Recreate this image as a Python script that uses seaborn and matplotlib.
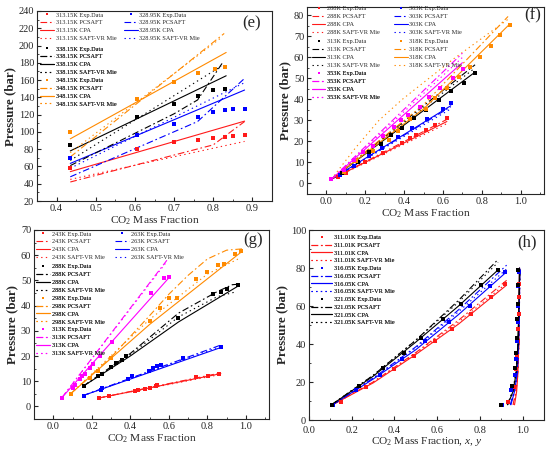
import matplotlib
matplotlib.use('Agg')
import matplotlib.pyplot as plt
import seaborn as sns
from matplotlib.lines import Line2D
from matplotlib.ticker import MultipleLocator

# ---------------- data ----------------
# panel (e)
e_temps = ['313.15K', '328.95K', '338.15K', '348.15K']
e_x_313 = [0.435, 0.605, 0.70, 0.76, 0.80, 0.83, 0.85, 0.88]
e_p_313 = [58.5, 80.5, 88, 90.5, 92.5, 94.5, 95, 96]
e_x_329 = [0.435, 0.605, 0.70, 0.76, 0.80, 0.83, 0.85, 0.88]
e_p_329 = [70, 96, 109, 117.5, 123, 125, 126, 126.5]
e_x_338 = [0.435, 0.605, 0.70, 0.76, 0.80, 0.83]
e_p_338 = [84.5, 117, 132, 142, 148.5, 150]
e_x_348 = [0.435, 0.605, 0.70, 0.76, 0.805, 0.83]
e_p_348 = [100, 138, 157.5, 168, 173, 175]

e_pc_x_313, e_pc_313 = [0.435, 0.80, 0.88], [42, 85, 112]
e_cpa_x_313, e_cpa_313 = [0.435, 0.88], [54, 112.5]
e_vr_x_313, e_vr_313 = [0.435, 0.88], [45, 89]
e_pc_x_329, e_pc_329 = [0.435, 0.76, 0.88], [48, 112, 162]
e_cpa_x_329, e_cpa_329 = [0.435, 0.88], [63.5, 148.5]
e_vr_x_329, e_vr_329 = [0.435, 0.88], [58, 157]
e_pc_x_338, e_pc_338 = [0.435, 0.70, 0.76, 0.825], [61, 121, 137, 181]
e_cpa_x_338, e_cpa_338 = [0.435, 0.833], [78, 165]
e_vr_x_338, e_vr_338 = [0.435, 0.82], [67, 176]
e_pc_x_348, e_pc_348 = [0.435, 0.828], [71, 214]
e_cpa_x_348, e_cpa_348 = [0.435, 0.833], [92, 192]
e_vr_x_348, e_vr_348 = [0.435, 0.82], [76, 209]

# panel (f)
f_temps = ['288K', '303K', '313K', '318K', '353K']
f_x_288 = [0.025, 0.06, 0.10, 0.20, 0.29, 0.39, 0.43, 0.46, 0.51, 0.56, 0.62]
f_p_288 = [2, 3, 5, 10, 14.5, 19.5, 21.5, 23, 25.5, 28, 31]
f_x_303 = [0.025, 0.07, 0.14, 0.22, 0.285, 0.37, 0.44, 0.52, 0.60, 0.64]
f_p_303 = [2, 4, 8.5, 13, 17, 22, 26.5, 30.5, 35.5, 38.5]
f_x_313 = [0.025, 0.08, 0.16, 0.22, 0.28, 0.33, 0.39, 0.45, 0.51, 0.58, 0.64, 0.71, 0.765]
f_p_313 = [2, 5, 10, 15, 19, 23, 26.5, 31, 35, 39.5, 44, 48, 52.5]
f_x_318 = [0.025, 0.09, 0.15, 0.24, 0.32, 0.37, 0.43, 0.51, 0.56, 0.62, 0.68, 0.74, 0.79, 0.845, 0.895, 0.945]
f_p_318 = [2, 5.5, 10.5, 15.5, 20.5, 25, 30.5, 35.5, 40.5, 45.5, 50.5, 55.5, 60, 65.5, 70.5, 75.5]
f_x_353 = [0.025, 0.09, 0.14, 0.19, 0.24, 0.29, 0.35, 0.385, 0.42, 0.48, 0.53, 0.585, 0.65, 0.705]
f_p_353 = [2, 6.5, 11, 15, 18, 22.5, 27, 30, 32.5, 36.5, 41, 45.5, 50, 54.5]

f_pc_x_288, f_pc_288 = [0.025, 0.62], [2, 30.5]
f_cpa_x_288, f_cpa_288 = [0.025, 0.62], [2, 29.5]
f_vr_x_288, f_vr_288 = [0.025, 0.62], [2, 28.5]
f_pc_x_303, f_pc_303 = [0.025, 0.64], [2, 36.5]
f_cpa_x_303, f_cpa_303 = [0.025, 0.64], [2, 37]
f_vr_x_303, f_vr_303 = [0.025, 0.64], [2, 35.5]
f_pc_x_313, f_pc_313 = [0.025, 0.765], [2, 56.5]
f_cpa_x_313, f_cpa_313 = [0.025, 0.765], [2, 53]
f_vr_x_313, f_vr_313 = [0.025, 0.765], [2, 55]
f_pc_x_318, f_pc_318 = [0.025, 0.5, 0.935], [2, 37.5, 79.5]
f_cpa_x_318, f_cpa_318 = [0.025, 0.5, 0.945], [2, 35.5, 76]
f_vr_x_318, f_vr_318 = [0.025, 0.15, 0.27, 0.39, 0.65, 0.94], [2, 17, 30, 40, 59, 78.5]
f_pc_x_353, f_pc_353 = [0.025, 0.70], [2, 62]
f_cpa_x_353, f_cpa_353 = [0.025, 0.70], [2, 57.5]
f_vr_x_353, f_vr_353 = [0.025, 0.70], [2, 60]

# panel (g)
g_temps = ['243K', '263K', '288K', '298K', '313K']
g_x_243 = [0.24, 0.29, 0.425, 0.44, 0.475, 0.50, 0.535, 0.54, 0.74, 0.805, 0.86]
g_p_243 = [3.3, 4.0, 6.2, 6.6, 7.1, 7.4, 8.2, 8.6, 11.5, 12.1, 12.8]
g_x_263 = [0.16, 0.25, 0.255, 0.39, 0.41, 0.495, 0.52, 0.54, 0.56, 0.675, 0.87]
g_p_263 = [4.2, 6.6, 7.3, 10.8, 11.9, 14.2, 15.4, 16.1, 16.6, 19.1, 23.7]
g_x_288 = [0.16, 0.23, 0.255, 0.30, 0.325, 0.355, 0.38, 0.65, 0.83, 0.87, 0.90, 0.96]
g_p_288 = [8.2, 11.9, 12.8, 15.6, 17.2, 18.5, 20.1, 35, 44.5, 45.5, 46.6, 48.2]
g_x_298 = [0.09, 0.19, 0.23, 0.30, 0.50, 0.555, 0.60, 0.64, 0.74, 0.80, 0.855, 0.885, 0.945, 0.975]
g_p_298 = [5, 11.2, 13.9, 19.4, 34, 38.9, 42.9, 42.9, 50.4, 53.4, 56.1, 56.7, 60.3, 61.5]
g_x_313 = [0.045, 0.10, 0.115, 0.14, 0.15, 0.165, 0.19, 0.205, 0.245, 0.305, 0.505, 0.575, 0.60]
g_p_313 = [3.3, 7.5, 8.6, 10.8, 12.1, 12.8, 15.2, 16.8, 20.1, 25.5, 44.9, 50.8, 51.2]

g_pc_x_243, g_pc_243 = [0.235, 0.87], [3.3, 13.3]
g_cpa_x_243, g_cpa_243 = [0.235, 0.87], [3.3, 13]
g_vr_x_243, g_vr_243 = [0.235, 0.87], [3.3, 12.7]
g_pc_x_263, g_pc_263 = [0.155, 0.875], [4.3, 24.5]
g_cpa_x_263, g_cpa_263 = [0.155, 0.875], [4.3, 23.5]
g_vr_x_263, g_vr_263 = [0.155, 0.875], [4.3, 24]
g_pc_x_288, g_pc_288 = [0.155, 0.40, 0.65, 0.85, 0.93, 0.965], [8, 21, 37, 45.5, 48.3, 48.5]
g_cpa_x_288, g_cpa_288 = [0.155, 0.40, 0.65, 0.965], [8, 20, 33.5, 48]
g_vr_x_288, g_vr_288 = [0.155, 0.40, 0.65, 0.85, 0.95], [8, 20.5, 35.5, 43.5, 45.5]
g_pc_x_298, g_pc_298 = [0.09, 0.30, 0.50, 0.60, 0.70, 0.80, 0.90, 0.98], [5, 19.5, 36, 44.5, 52, 58.5, 62, 62.5]
g_cpa_x_298, g_cpa_298 = [0.09, 0.50, 0.98], [5, 32.5, 61.5]
g_vr_x_298, g_vr_298 = [0.09, 0.50, 0.80, 0.96], [5, 34.5, 52.5, 58.5]
g_pc_x_313, g_pc_313 = [0.045, 0.59], [3.5, 58]
g_cpa_x_313, g_cpa_313 = [0.045, 0.60], [3.5, 51]
g_vr_x_313, g_vr_313 = [0.045, 0.59], [3.5, 57.5]

# panel (h): liquid (x) and vapour (y) compositions
h_temps = ['311.01K', '316.05K', '321.05K']
h_x_311 = [0.15, 0.267, 0.396, 0.492, 0.588, 0.668, 0.756, 0.854, 0.919]
h_y_311 = [0.93, 0.958, 0.968, 0.975, 0.978, 0.980, 0.981, 0.982, 0.982]
h_p_311 = [9.7, 17.3, 27, 33.7, 41.5, 47.8, 55.6, 64.6, 71.5]
h_x_316 = [0.112, 0.22, 0.334, 0.435, 0.543, 0.655, 0.753, 0.849, 0.918]
h_y_316 = [0.905, 0.946, 0.962, 0.970, 0.975, 0.978, 0.979, 0.980, 0.981]
h_p_316 = [8, 16, 23.8, 32, 41.5, 51.4, 60, 70.3, 77.8]
h_x_321 = [0.109, 0.233, 0.345, 0.446, 0.523, 0.628, 0.712, 0.807, 0.883]
h_y_321 = [0.897, 0.952, 0.962, 0.968, 0.972, 0.975, 0.977, 0.978, 0.979]
h_p_321 = [8, 17.8, 27.4, 35.3, 42.9, 53, 61.1, 71.1, 78.7]

h_liq_x_311 = [0.11, 0.30, 0.50, 0.70, 0.925]
h_pc_311, h_cpa_311, h_vr_311 = [8, 20, 35.5, 52.5, 73.5], [8, 19.5, 34.5, 50.5, 71], [8, 20, 35, 51.5, 72]
h_liq_x_316 = [0.11, 0.30, 0.50, 0.70, 0.925]
h_pc_316, h_cpa_316, h_vr_316 = [8, 22, 38.5, 58, 81.5], [8, 21.5, 37, 55.5, 78], [8, 22, 38, 57, 79.5]
h_liq_x_321 = [0.105, 0.30, 0.50, 0.70, 0.885]
h_pc_321, h_cpa_321, h_vr_321 = [8, 23.5, 42, 63, 84.5], [8, 23, 41, 60, 79], [8, 23.5, 42, 62, 83]

h_vap_p = [8, 15, 25, 40, 60, 80]
h_vpc_311 = [0.955, 0.968, 0.977, 0.982, 0.985, 0.986]
h_vcpa_311 = [0.962, 0.972, 0.978, 0.982, 0.984, 0.985]
h_vvr_311 = [0.958, 0.970, 0.978, 0.983, 0.985, 0.986]
h_vpc_316 = [0.942, 0.960, 0.974, 0.981, 0.985, 0.987]
h_vcpa_316 = [0.945, 0.962, 0.975, 0.981, 0.984, 0.986]
h_vvr_316 = [0.943, 0.961, 0.975, 0.982, 0.985, 0.987]
h_vpc_321 = [0.928, 0.953, 0.969, 0.978, 0.983, 0.987]
h_vcpa_321 = [0.930, 0.955, 0.970, 0.978, 0.982, 0.985]
h_vvr_321 = [0.929, 0.954, 0.970, 0.979, 0.984, 0.988]

# ---------------- style ----------------
RED, BLUE, BLACK, ORANGE, MAGENTA = '#ff1a1a', '#0000ff', '#000000', '#ff8a00', '#ff00ff'
DASHDOT = (0, (6, 2.5, 1.5, 2.5))
DOTTED = (0, (1.2, 3))
STYLES = [DASHDOT, '-', DOTTED]
LW = 0.8

sns.set_theme(style='ticks')
plt.rcParams['font.family'] = ['Liberation Serif', 'DejaVu Serif']
plt.rcParams['mathtext.fontset'] = 'custom'
plt.rcParams['mathtext.rm'] = 'Liberation Serif'
plt.rcParams['mathtext.it'] = 'Liberation Serif:italic'
plt.rcParams['xtick.direction'] = 'in'
plt.rcParams['ytick.direction'] = 'in'
plt.rcParams['xtick.major.size'] = 3
plt.rcParams['ytick.major.size'] = 3
plt.rcParams['xtick.minor.size'] = 1.6
plt.rcParams['ytick.minor.size'] = 1.6
plt.rcParams['axes.linewidth'] = 0.8
plt.rcParams['xtick.major.pad'] = 2.5
plt.rcParams['ytick.major.pad'] = 2


def draw_set(ax, color, ex, ep, models):
    for (mx, my), ls in zip(models, STYLES):
        sns.lineplot(x=mx, y=my, ax=ax, color=color, linestyle=ls, linewidth=LW,
                     sort=False, estimator=None, legend=False)
    sns.scatterplot(x=ex, y=ep, ax=ax, color=color, marker='s', s=9,
                    linewidth=0, zorder=4, legend=False)


def entries(temp, color):
    return [Line2D([], [], color=color, marker='s', ls='none', ms=2.1, mew=0, label=f'{temp} Exp.Data'),
            Line2D([], [], color=color, ls=DASHDOT, lw=LW, label=f'{temp} PCSAFT'),
            Line2D([], [], color=color, ls='-', lw=LW, label=f'{temp} CPA'),
            Line2D([], [], color=color, ls=DOTTED, lw=LW, label=f'{temp} SAFT-VR Mie')]


def add_legend(ax, handles, ncol, x0, y0, hl=2.2, cs=1.2, ls=0.4):
    leg = ax.legend(handles=handles, ncol=ncol, loc='upper left', bbox_to_anchor=(x0, y0),
                    frameon=False, fontsize=4.5, labelspacing=ls, handlelength=hl,
                    handletextpad=0.3, columnspacing=cs, borderpad=0, borderaxespad=0,
                    numpoints=1)
    ax.add_artist(leg)


def style_axes(ax, xlim, ylim, xmaj, xmin, ymaj, ymin, xlabel, tag, tagpos):
    ax.set_xlim(*xlim)
    ax.set_ylim(*ylim)
    ax.xaxis.set_major_locator(MultipleLocator(xmaj))
    ax.xaxis.set_minor_locator(MultipleLocator(xmin))
    ax.yaxis.set_major_locator(MultipleLocator(ymaj))
    ax.yaxis.set_minor_locator(MultipleLocator(ymin))
    ax.tick_params(labelsize=7.5, width=0.8)
    ax.tick_params(which='minor', width=0.6)
    ax.set_xlabel(xlabel, fontsize=8.2, labelpad=0.5)
    ax.set_ylabel('Pressure (bar)', fontsize=9.3, fontweight='bold', labelpad=2)
    ax.text(tagpos[0], tagpos[1], tag, transform=ax.transAxes, fontsize=12,
            ha='center', va='center')
    for s in ax.spines.values():
        s.set_visible(True)


fig = plt.figure(figsize=(5.5, 4.49), dpi=100)
ax_e = fig.add_axes([37 / 550, 1 - 201 / 449, 235 / 550, 190 / 449])
ax_f = fig.add_axes([307 / 550, 1 - 194 / 449, 237 / 550, 187 / 449])
ax_g = fig.add_axes([34 / 550, 1 - 419 / 449, 235 / 550, 189 / 449])
ax_h = fig.add_axes([309 / 550, 1 - 420 / 449, 235 / 550, 190 / 449])

CO2 = 'CO$_2$ Mass Fraction'

# (e)
draw_set(ax_e, RED, e_x_313, e_p_313, [(e_pc_x_313, e_pc_313), (e_cpa_x_313, e_cpa_313), (e_vr_x_313, e_vr_313)])
draw_set(ax_e, BLUE, e_x_329, e_p_329, [(e_pc_x_329, e_pc_329), (e_cpa_x_329, e_cpa_329), (e_vr_x_329, e_vr_329)])
draw_set(ax_e, BLACK, e_x_338, e_p_338, [(e_pc_x_338, e_pc_338), (e_cpa_x_338, e_cpa_338), (e_vr_x_338, e_vr_338)])
draw_set(ax_e, ORANGE, e_x_348, e_p_348, [(e_pc_x_348, e_pc_348), (e_cpa_x_348, e_cpa_348), (e_vr_x_348, e_vr_348)])
style_axes(ax_e, (0.35, 0.95), (20, 240), 0.1, 0.05, 20, 10, CO2, '(e)', (0.915, 0.937))
add_legend(ax_e, entries(e_temps[0], RED) + entries(e_temps[1], BLUE), 2, 0.013, 0.994)
add_legend(ax_e, entries(e_temps[2], BLACK) + entries(e_temps[3], ORANGE), 1, 0.013, 0.815)

# (f)
draw_set(ax_f, RED, f_x_288, f_p_288, [(f_pc_x_288, f_pc_288), (f_cpa_x_288, f_cpa_288), (f_vr_x_288, f_vr_288)])
draw_set(ax_f, BLUE, f_x_303, f_p_303, [(f_pc_x_303, f_pc_303), (f_cpa_x_303, f_cpa_303), (f_vr_x_303, f_vr_303)])
draw_set(ax_f, BLACK, f_x_313, f_p_313, [(f_pc_x_313, f_pc_313), (f_cpa_x_313, f_cpa_313), (f_vr_x_313, f_vr_313)])
draw_set(ax_f, ORANGE, f_x_318, f_p_318, [(f_pc_x_318, f_pc_318), (f_cpa_x_318, f_cpa_318), (f_vr_x_318, f_vr_318)])
draw_set(ax_f, MAGENTA, f_x_353, f_p_353, [(f_pc_x_353, f_pc_353), (f_cpa_x_353, f_cpa_353), (f_vr_x_353, f_vr_353)])
style_axes(ax_f, (-0.1, 1.12), (-5, 84), 0.2, 0.1, 10, 5, CO2, '(f)', (0.954, 0.957))
add_legend(ax_f, entries(f_temps[0], RED) + entries(f_temps[1], BLUE), 2, 0.02, 1.006, cs=2.2)
add_legend(ax_f, entries(f_temps[2], BLACK) + entries(f_temps[3], ORANGE), 2, 0.02, 0.83, cs=2.2)
add_legend(ax_f, entries(f_temps[4], MAGENTA), 1, 0.02, 0.658)

# (g)
draw_set(ax_g, RED, g_x_243, g_p_243, [(g_pc_x_243, g_pc_243), (g_cpa_x_243, g_cpa_243), (g_vr_x_243, g_vr_243)])
draw_set(ax_g, BLUE, g_x_263, g_p_263, [(g_pc_x_263, g_pc_263), (g_cpa_x_263, g_cpa_263), (g_vr_x_263, g_vr_263)])
draw_set(ax_g, BLACK, g_x_288, g_p_288, [(g_pc_x_288, g_pc_288), (g_cpa_x_288, g_cpa_288), (g_vr_x_288, g_vr_288)])
draw_set(ax_g, ORANGE, g_x_298, g_p_298, [(g_pc_x_298, g_pc_298), (g_cpa_x_298, g_cpa_298), (g_vr_x_298, g_vr_298)])
draw_set(ax_g, MAGENTA, g_x_313, g_p_313, [(g_pc_x_313, g_pc_313), (g_cpa_x_313, g_cpa_313), (g_vr_x_313, g_vr_313)])
style_axes(ax_g, (-0.1, 1.12), (-5, 70), 0.2, 0.1, 10, 5, CO2, '(g)', (0.932, 0.947))
add_legend(ax_g, entries(g_temps[0], RED) + entries(g_temps[1], BLUE), 2, 0.01, 0.994, cs=1.7)
add_legend(ax_g, entries(g_temps[2], BLACK) + entries(g_temps[3], ORANGE) + entries(g_temps[4], MAGENTA),
           1, 0.01, 0.82)

# (h)
for color, lx, pcs, cpas, vrs, vpc, vcpa, vvr, ex, ey, ep in [
        (RED, h_liq_x_311, h_pc_311, h_cpa_311, h_vr_311, h_vpc_311, h_vcpa_311, h_vvr_311, h_x_311, h_y_311, h_p_311),
        (BLUE, h_liq_x_316, h_pc_316, h_cpa_316, h_vr_316, h_vpc_316, h_vcpa_316, h_vvr_316, h_x_316, h_y_316, h_p_316),
        (BLACK, h_liq_x_321, h_pc_321, h_cpa_321, h_vr_321, h_vpc_321, h_vcpa_321, h_vvr_321, h_x_321, h_y_321, h_p_321)]:
    draw_set(ax_h, color, ex, ep, [(lx, pcs), (lx, cpas), (lx, vrs)])
    draw_set(ax_h, color, ey, ep, [(vpc, h_vap_p), (vcpa, h_vap_p), (vvr, h_vap_p)])
style_axes(ax_h, (0.0, 1.1), (0, 100), 0.2, 0.1, 20, 10,
           'CO$_2$ Mass Fraction, $x$, $y$', '(h)', (0.928, 0.937))
ax_h.tick_params(axis='x', pad=4)
add_legend(ax_h, entries(h_temps[0], RED) + entries(h_temps[1], BLUE) + entries(h_temps[2], BLACK),
           1, 0.01, 0.975, hl=3.3, ls=0.38)

fig.savefig('out.png', dpi=100)
